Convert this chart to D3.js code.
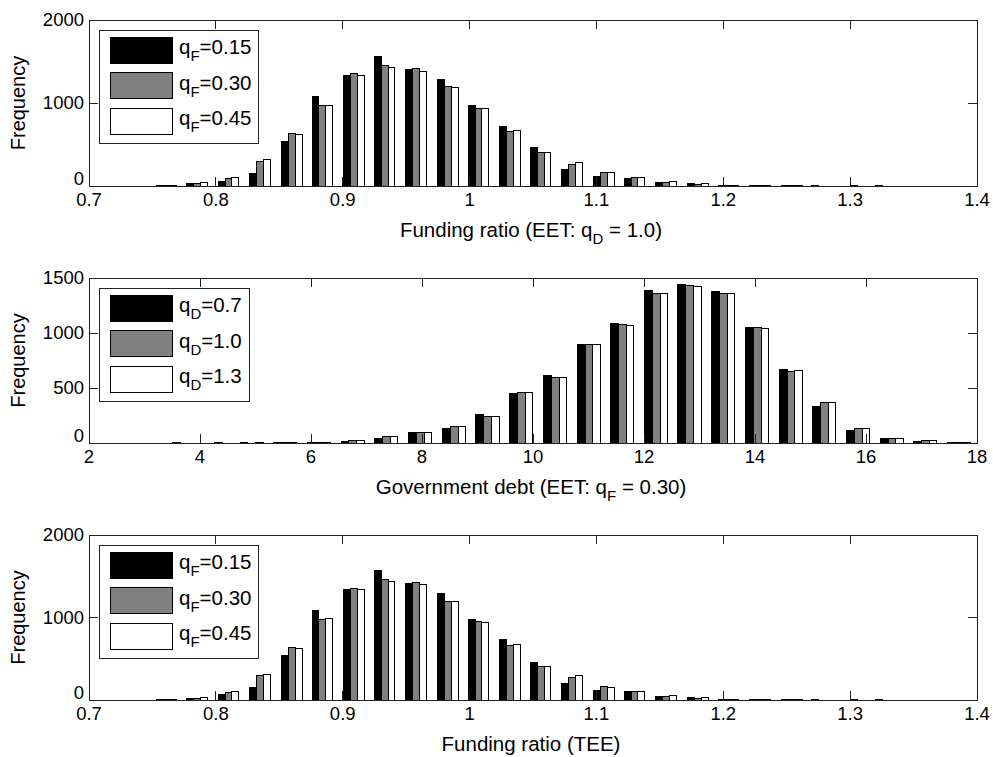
<!DOCTYPE html>
<html>
<head>
    <meta charset="utf-8" />
    <title>Histograms</title>
    <style>
        body { margin: 0; background: #fff; overflow: hidden; }
        text { font-family: "Liberation Sans", Arial, sans-serif; fill: #000; }
    </style>
</head>
<body>
    <div id="chart"></div>
    <script src="https://d3js.org/d3.v7.min.js"></script>
    <script>
        // bin centres
        var frCenters = [0.761, 0.785, 0.810, 0.835, 0.860, 0.884, 0.909, 0.933, 0.958, 0.983, 1.007, 1.032,
                         1.056, 1.081, 1.106, 1.130, 1.155, 1.180, 1.204, 1.229, 1.254, 1.278, 1.303, 1.328];
        var debtCenters = [3.72, 4.33, 4.93, 5.54, 6.15, 6.75, 7.36, 7.97, 8.58, 9.18, 9.79, 10.40,
                           11.01, 11.61, 12.22, 12.82, 13.43, 14.04, 14.65, 15.25, 15.86, 16.47, 17.07, 17.68];

        // panel 1: funding ratio, EET, qD = 1.0
        var eetF015 = [10, 26, 58, 150, 538, 1075, 1336, 1556, 1408, 1283, 971, 718, 459, 195, 118, 94, 46, 34, 8, 5, 4, 1, 0, 4];
        var eetF030 = [8, 26, 90, 294, 627, 971, 1351, 1451, 1420, 1199, 939, 651, 399, 262, 158, 102, 46, 22, 5, 5, 1, 0, 4, 0];
        var eetF045 = [8, 38, 102, 318, 615, 971, 1336, 1432, 1384, 1187, 931, 663, 399, 286, 158, 102, 58, 34, 5, 5, 4, 0, 0, 0];

        // panel 2: government debt, EET, qF = 0.30
        var debtD07 = [4, 0, 3, 3, 2, 12, 39, 91, 136, 257, 448, 618, 894, 1088, 1388, 1442, 1378, 1051, 672, 336, 115, 39, 12, 5];
        var debtD10 = [0, 3, 0, 3, 3, 21, 57, 91, 151, 245, 463, 600, 894, 1078, 1363, 1436, 1363, 1051, 651, 366, 133, 39, 21, 5];
        var debtD13 = [0, 0, 3, 3, 8, 21, 57, 91, 151, 245, 463, 591, 894, 1066, 1363, 1424, 1363, 1042, 660, 366, 133, 39, 21, 5];

        // panel 3: funding ratio, TEE
        var teeF015 = [8, 20, 61, 154, 537, 1079, 1342, 1564, 1410, 1285, 973, 731, 452, 202, 121, 97, 48, 36, 8, 5, 4, 1, 0, 4];
        var teeF030 = [6, 20, 93, 303, 642, 970, 1354, 1455, 1422, 1200, 949, 663, 404, 267, 166, 105, 44, 16, 5, 5, 1, 0, 4, 0];
        var teeF045 = [6, 32, 105, 315, 626, 986, 1342, 1434, 1394, 1200, 937, 675, 404, 291, 150, 105, 56, 32, 5, 5, 4, 0, 0, 0];

        var frTicks = [0.7, 0.8, 0.9, 1.0, 1.1, 1.2, 1.3, 1.4];
        var debtTicks = [2, 4, 6, 8, 10, 12, 14, 16, 18];
        var freqTicks2000 = [0, 1000, 2000];
        var freqTicks1500 = [0, 500, 1000, 1500];

        var fLabels = [["q", "F", "=0.15"], ["q", "F", "=0.30"], ["q", "F", "=0.45"]];
        var dLabels = [["q", "D", "=0.7"], ["q", "D", "=1.0"], ["q", "D", "=1.3"]];

        var barColors = ["#000000", "#808080", "#ffffff"];

        var W = 993, H = 757;
        var svg = d3.select("#chart").append("svg")
            .attr("width", W)
            .attr("height", H);

        function drawPanel(opt) {
            var left = 89, right = 977;
            var x = d3.scaleLinear().domain(opt.xDomain).range([left, right]);
            var y = d3.scaleLinear().domain(opt.yDomain).range([opt.bottom, opt.top]);
            var g = svg.append("g");

            // grouped bars
            var step = x(opt.centers[1]) - x(opt.centers[0]);
            var gw = step * 0.68;
            var bw = gw / opt.series.length;
            opt.series.forEach(function (vals, si) {
                g.append("g").selectAll("rect")
                    .data(vals)
                    .join("rect")
                    .attr("x", (d, i) => x(opt.centers[i]) - gw / 2 + si * bw)
                    .attr("y", d => y(d))
                    .attr("width", bw)
                    .attr("height", d => y(0) - y(d))
                    .attr("fill", barColors[si])
                    .attr("stroke", "#000")
                    .attr("stroke-width", 1)
                    .attr("shape-rendering", "crispEdges");
            });

            // box
            g.append("rect")
                .attr("x", left).attr("y", opt.top)
                .attr("width", right - left).attr("height", opt.bottom - opt.top)
                .attr("fill", "none").attr("stroke", "#222").attr("stroke-width", 1)
                .attr("shape-rendering", "crispEdges");

            // inward ticks, bottom+top and left+right
            var tl = 9;
            var tk = g.append("g").attr("stroke", "#222").attr("shape-rendering", "crispEdges");
            opt.xTicks.forEach(function (t) {
                tk.append("line").attr("x1", x(t)).attr("x2", x(t)).attr("y1", opt.bottom).attr("y2", opt.bottom - tl);
                tk.append("line").attr("x1", x(t)).attr("x2", x(t)).attr("y1", opt.top).attr("y2", opt.top + tl);
            });
            opt.yTicks.forEach(function (t) {
                tk.append("line").attr("x1", left).attr("x2", left + tl).attr("y1", y(t)).attr("y2", y(t));
                tk.append("line").attr("x1", right).attr("x2", right - tl).attr("y1", y(t)).attr("y2", y(t));
            });

            // tick labels
            g.append("g").selectAll("text")
                .data(opt.xTicks)
                .join("text")
                .attr("x", d => x(d))
                .attr("y", opt.bottom + 20)
                .attr("text-anchor", "middle")
                .style("font-size", "18.5px")
                .text(d => d3.format("")(d));
            g.append("g").selectAll("text")
                .data(opt.yTicks)
                .join("text")
                .attr("x", left - 5)
                .attr("y", d => y(d) + (d === 0 ? -1 : 6))
                .attr("text-anchor", "end")
                .style("font-size", "18.5px")
                .text(d => d);

            // y label
            g.append("text")
                .attr("transform", `translate(25,${(opt.top + opt.bottom) / 2}) rotate(-90)`)
                .attr("text-anchor", "middle")
                .style("font-size", "20px")
                .text("Frequency");

            // x label with optional subscript
            var xl = g.append("text")
                .attr("x", (left + right) / 2 - 2)
                .attr("y", opt.bottom + 51)
                .attr("text-anchor", "middle")
                .style("font-size", "20.5px");
            xl.append("tspan").text(opt.xLabel[0]);
            if (opt.xLabel.length > 1) {
                xl.append("tspan").attr("dy", 7).style("font-size", "15px").text(opt.xLabel[1]);
                xl.append("tspan").attr("dy", -7).text(opt.xLabel[2]);
            }

            // legend
            var lx = left + 10, ly = opt.top + 10;
            var lg = g.append("g");
            lg.append("rect")
                .attr("x", lx).attr("y", ly)
                .attr("width", opt.legendW).attr("height", 113)
                .attr("fill", "#fff").attr("stroke", "#222")
                .attr("shape-rendering", "crispEdges");
            opt.labels.forEach(function (lab, i) {
                var sy = ly + 7 + i * 35.5;
                lg.append("rect")
                    .attr("x", lx + 11).attr("y", sy)
                    .attr("width", 62).attr("height", 26)
                    .attr("fill", barColors[i]).attr("stroke", "#000")
                    .attr("shape-rendering", "crispEdges");
                var t = lg.append("text")
                    .attr("x", lx + 80)
                    .attr("y", sy + 17)
                    .style("font-size", "20.5px");
                t.append("tspan").text(lab[0]);
                t.append("tspan").attr("dy", 7).style("font-size", "15px").text(lab[1]);
                t.append("tspan").attr("dy", -7).text(lab[2]);
            });
        }

        drawPanel({
            top: 20, bottom: 186,
            xDomain: [0.7, 1.4], yDomain: [0, 2000],
            xTicks: frTicks, yTicks: freqTicks2000,
            centers: frCenters, series: [eetF015, eetF030, eetF045],
            labels: fLabels, legendW: 159,
            xLabel: ["Funding ratio (EET: q", "D", " = 1.0)"]
        });
        drawPanel({
            top: 278, bottom: 443,
            xDomain: [2, 18], yDomain: [0, 1500],
            xTicks: debtTicks, yTicks: freqTicks1500,
            centers: debtCenters, series: [debtD07, debtD10, debtD13],
            labels: dLabels, legendW: 150,
            xLabel: ["Government debt (EET: q", "F", " = 0.30)"]
        });
        drawPanel({
            top: 535, bottom: 700,
            xDomain: [0.7, 1.4], yDomain: [0, 2000],
            xTicks: frTicks, yTicks: freqTicks2000,
            centers: frCenters, series: [teeF015, teeF030, teeF045],
            labels: fLabels, legendW: 159,
            xLabel: ["Funding ratio (TEE)"]
        });
    </script>
</body>
</html>
